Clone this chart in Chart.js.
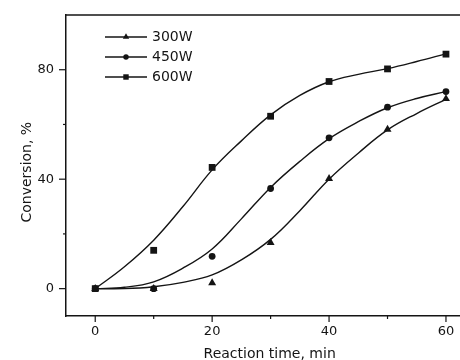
<!DOCTYPE html>
<html lang="en">
<head>
<meta charset="UTF-8">
<title>Conversion vs reaction time</title>
<script src="https://cdn.jsdelivr.net/npm/chart.js"></script>
<style>
  html, body { margin: 0; padding: 0; background: #fff; }
  #wrap { width: 460px; height: 360px; }
</style>
</head>
<body>
<div id="wrap"><canvas id="chart"></canvas></div>
<script>
  // measured points
  const times = [0, 10, 20, 30, 40, 50, 60];
  const w300 = [0, 0, 2.1, 16.8, 40.2, 58.2, 69.4];
  const w450 = [0, 0, 11.8, 36.6, 55.1, 66.3, 72];
  const w600 = [0, 14, 44.3, 63, 75.7, 80.3, 85.7];

  // fitted curves, every 5 min
  const fitTimes = [0, 5, 10, 15, 20, 25, 30, 35, 40, 45, 50, 55, 60];
  const fit300 = [0, 0, 0.7, 2.3, 5, 10.5, 18, 28.5, 40, 49.5, 58, 64, 69.2];
  const fit450 = [0, 0.5, 2.5, 7.5, 14.5, 25.5, 37, 46.5, 54.8, 61, 66.1, 69.5, 72];
  const fit600 = [0, 8, 17.7, 30, 43.4, 54, 63.5, 70.6, 75.6, 78.3, 80.4, 83, 85.8];

  const seriesNames = ['300W', '450W', '600W'];
  const xTicks = [0, 10, 20, 30, 40, 50, 60];
  const yTicks = [0, 20, 40, 60, 80];

  const ink = '#141414';
  const toXY = (xs, ys) => xs.map((x, i) => ({x: x, y: ys[i]}));

  const markerStyles = [
    {pointStyle: 'triangle', radius: 4.6},
    {pointStyle: 'circle', radius: 3.4},
    {pointStyle: 'rect', radius: 4.8}
  ];

  function markerSet(name, vals, i) {
    return {
      label: name,
      data: toXY(times, vals),
      showLine: false,
      pointStyle: markerStyles[i].pointStyle,
      pointRadius: markerStyles[i].radius,
      pointBackgroundColor: ink,
      pointBorderColor: ink,
      pointBorderWidth: 0,
      order: 0
    };
  }
  function fitSet(vals) {
    return {
      label: 'fit',
      data: toXY(fitTimes, vals),
      showLine: true,
      pointRadius: 0,
      borderColor: ink,
      borderWidth: 1.4,
      tension: 0.4,
      order: 1
    };
  }

  // outward ticks (major/minor), top frame line and the inset legend
  const framePlugin = {
    id: 'frame',
    afterDraw(chart) {
      const ctx = chart.ctx;
      const area = chart.chartArea;
      const xs = chart.scales.x, ys = chart.scales.y;
      ctx.save();
      ctx.strokeStyle = ink;
      ctx.lineWidth = 1.5;
      ctx.beginPath();
      ctx.moveTo(area.left, area.top);
      ctx.lineTo(area.right, area.top);
      ctx.stroke();
      ctx.lineWidth = 1.2;
      xTicks.forEach(v => {
        const px = xs.getPixelForValue(v);
        const len = v % 20 === 0 ? 6 : 3;
        ctx.beginPath();
        ctx.moveTo(px, area.bottom);
        ctx.lineTo(px, area.bottom + len);
        ctx.stroke();
      });
      yTicks.forEach(v => {
        const py = ys.getPixelForValue(v);
        const len = v % 40 === 0 ? 7 : 3;
        ctx.beginPath();
        ctx.moveTo(area.left, py);
        ctx.lineTo(area.left - len, py);
        ctx.stroke();
      });

      // legend
      const lx = area.left + 39, ly = area.top + 22;
      ctx.font = '14px "DejaVu Sans"';
      ctx.fillStyle = ink;
      ctx.textBaseline = 'middle';
      seriesNames.forEach((name, i) => {
        const y = ly + i * 20;
        ctx.lineWidth = 1.3;
        ctx.beginPath();
        ctx.moveTo(lx, y);
        ctx.lineTo(lx + 42, y);
        ctx.stroke();
        Chart.helpers.drawPoint(ctx, {
          pointStyle: markerStyles[i].pointStyle,
          radius: markerStyles[i].radius * 0.8,
          rotation: 0,
          borderWidth: 0
        }, lx + 21, y);
        ctx.fillText(name, lx + 47, y + 0.5);
      });
      ctx.restore();
    }
  };

  new Chart(document.getElementById('chart'), {
    type: 'scatter',
    data: {
      datasets: [
        markerSet(seriesNames[0], w300, 0),
        markerSet(seriesNames[1], w450, 1),
        markerSet(seriesNames[2], w600, 2),
        fitSet(fit300),
        fitSet(fit450),
        fitSet(fit600)
      ]
    },
    options: {
      responsive: true,
      maintainAspectRatio: false,
      animation: false,
      devicePixelRatio: 1,
      layout: { autoPadding: false, padding: { top: 15, right: 0, left: 0, bottom: 0 } },
      plugins: {
        legend: { display: false },
        tooltip: { enabled: false }
      },
      scales: {
        x: {
          type: 'linear',
          min: -5,
          max: 62.4,
          afterBuildTicks: s => { s.ticks = xTicks.map(v => ({value: v})); },
          afterFit: s => { s.height = 44; s.paddingLeft = 0; s.paddingRight = 0; },
          grid: { display: true, drawOnChartArea: false, drawTicks: true, tickLength: 6, tickColor: 'rgba(0,0,0,0)' },
          border: { display: true, color: ink, width: 1.5 },
          ticks: {
            padding: 2,
            color: ink,
            font: { family: 'DejaVu Sans', size: 13 },
            maxRotation: 0,
            autoSkip: false,
            callback: v => (v % 20 === 0 ? v : '')
          },
          title: {
            display: true,
            text: '   Reaction time, min',
            color: ink,
            font: { family: 'DejaVu Sans', size: 14, lineHeight: 1 },
            padding: { top: 0, bottom: -1 }
          }
        },
        y: {
          min: -10,
          max: 100,
          afterBuildTicks: s => { s.ticks = yTicks.map(v => ({value: v})); },
          afterFit: s => { s.width = 66; s.paddingTop = 0; s.paddingBottom = 0; },
          grid: { display: true, drawOnChartArea: false, drawTicks: true, tickLength: 7, tickColor: 'rgba(0,0,0,0)' },
          border: { display: true, color: ink, width: 1.5 },
          ticks: {
            padding: 5,
            color: ink,
            font: { family: 'DejaVu Sans', size: 13 },
            autoSkip: false,
            callback: v => (v % 40 === 0 ? v : '')
          },
          title: {
            display: true,
            text: 'Conversion, %   ',
            color: ink,
            font: { family: 'DejaVu Sans', size: 14, lineHeight: 1 },
            padding: { top: 20, bottom: 0 }
          }
        }
      }
    },
    plugins: [framePlugin]
  });
</script>
</body>
</html>
